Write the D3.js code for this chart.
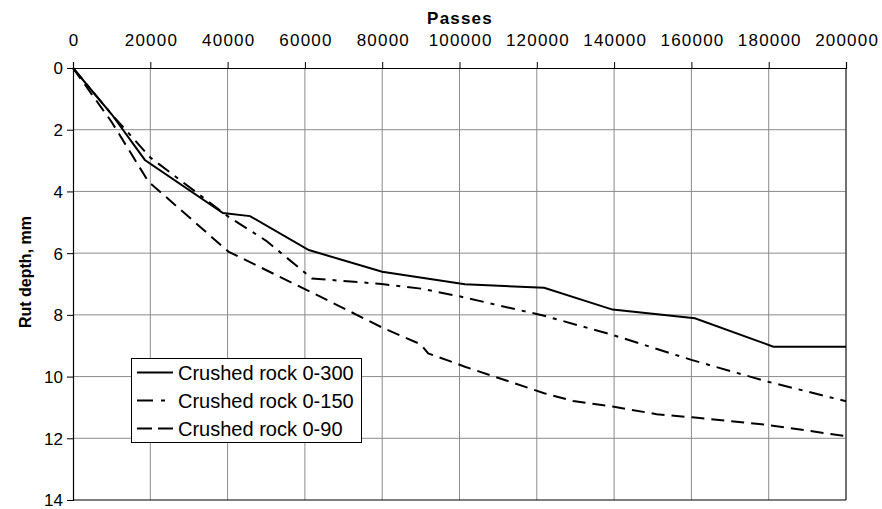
<!DOCTYPE html>
<html><head><meta charset="utf-8">
<script src="https://cdn.jsdelivr.net/npm/d3@7"></script>
<style>body{margin:0;background:#fff}svg{display:block}text{font-family:"Liberation Sans",Arial,sans-serif}</style>
</head><body>
<svg id="c" width="882" height="509"></svg>
<script>
const seriesNames = ["Crushed rock 0-300", "Crushed rock 0-150", "Crushed rock 0-90"];
const passes300 = [0, 10000, 18600, 38800, 45800, 61000, 80000, 101400, 121900, 139600, 160900, 181200, 200000];
const rut300    = [0, 1.5, 2.98, 4.7, 4.8, 5.9, 6.6, 7.01, 7.12, 7.83, 8.11, 9.03, 9.03];
const passes150 = [0, 10000, 20000, 40000, 50000, 61800, 79900, 90000, 100000, 121900, 139600, 160000, 179900, 200000];
const rut150    = [0, 1.5, 2.9, 4.8, 5.6, 6.82, 7.0, 7.15, 7.4, 8.03, 8.65, 9.46, 10.17, 10.8];
const passes90  = [0, 10000, 19500, 40200, 62200, 80300, 89500, 90600, 91900, 97500, 101400, 121900, 129400, 139600, 151000, 160900, 179900, 200000];
const rut90     = [0, 1.75, 3.68, 5.95, 7.3, 8.43, 8.93, 9.05, 9.25, 9.5, 9.68, 10.54, 10.79, 10.97, 11.22, 11.33, 11.57, 11.93];
const xTicks = [0, 20000, 40000, 60000, 80000, 100000, 120000, 140000, 160000, 180000, 200000];
const yTicks = [0, 2, 4, 6, 8, 10, 12, 14];
const dashes = [null, "14,7,4,7", "13,7"];

const svg = d3.select("#c");
const L = 73, R = 846, T = 68, B = 500;
const x = d3.scaleLinear().domain([0, 200000]).range([L, R]);
const y = d3.scaleLinear().domain([0, 14]).range([T, B]);

// gridlines
svg.append("g").selectAll("line").data(xTicks.slice(1)).join("line")
  .attr("x1", d => x(d)).attr("x2", d => x(d)).attr("y1", T).attr("y2", B)
  .attr("stroke", "#8c8c8c").attr("stroke-width", 1);
svg.append("g").selectAll("line").data(yTicks.slice(1, -1)).join("line")
  .attr("x1", L).attr("x2", R).attr("y1", d => y(d)).attr("y2", d => y(d))
  .attr("stroke", "#8c8c8c").attr("stroke-width", 1);
svg.append("line").attr("x1", R).attr("x2", R).attr("y1", T).attr("y2", B).attr("stroke", "#555").attr("stroke-width", 1.5);
svg.append("line").attr("x1", L).attr("x2", R).attr("y1", B).attr("y2", B).attr("stroke", "#000").attr("stroke-width", 1.2);

// axes
const xAxis = svg.append("g").attr("transform", `translate(0,${T})`)
  .call(d3.axisTop(x).tickValues(xTicks).tickFormat(d3.format("d")).tickSize(6).tickPadding(16));
const yAxis = svg.append("g").attr("transform", `translate(${L},0)`)
  .call(d3.axisLeft(y).tickValues(yTicks).tickFormat(d3.format("d")).tickSize(6).tickPadding(4));
[xAxis, yAxis].forEach(g => {
  g.select(".domain").attr("stroke", "#000").attr("stroke-width", 1.2);
  g.selectAll(".tick line").attr("stroke", "#000");
  g.selectAll(".tick text").attr("font-size", 17).attr("fill", "#000")
    .attr("font-family", '"Liberation Sans",Arial,sans-serif');
});
xAxis.selectAll(".tick text").attr("letter-spacing", "1.2px").attr("dx", "0.6px");
yAxis.selectAll(".tick text").attr("dy", "0.35em");

svg.append("text").attr("x", 460).attr("y", 24).attr("text-anchor", "middle")
  .attr("font-size", 17).attr("font-weight", "bold").attr("letter-spacing", "1.2px").text("Passes");
svg.append("text").attr("transform", "translate(31,272) rotate(-90)").attr("text-anchor", "middle")
  .attr("font-size", 16).attr("font-weight", "bold").text("Rut depth, mm");

// lines
const allData = [
  passes300.map((p, i) => [p, rut300[i]]),
  passes150.map((p, i) => [p, rut150[i]]),
  passes90.map((p, i) => [p, rut90[i]])
];
const line = d3.line().x(d => x(d[0])).y(d => y(d[1]));
svg.append("g").selectAll("path").data(allData).join("path")
  .attr("d", line).attr("fill", "none").attr("stroke", "#000").attr("stroke-width", 2)
  .attr("stroke-dasharray", (d, i) => dashes[i]);

// legend
const lg = svg.append("g");
lg.append("rect").attr("x", 131.5).attr("y", 358.5).attr("width", 230).attr("height", 84)
  .attr("fill", "#fff").attr("stroke", "#000").attr("stroke-width", 1);
seriesNames.forEach((n, i) => {
  const cy = 372.5 + i * 28;
  lg.append("line").attr("x1", 137).attr("x2", 173).attr("y1", cy).attr("y2", cy)
    .attr("stroke", "#000").attr("stroke-width", 2).attr("stroke-dasharray", i === 1 ? "16,8,4,8" : dashes[i] ? "15,6" : null);
  lg.append("text").attr("x", 178).attr("y", cy).attr("dy", "0.35em").attr("font-size", 20).text(n);
});
</script>
</body></html>
